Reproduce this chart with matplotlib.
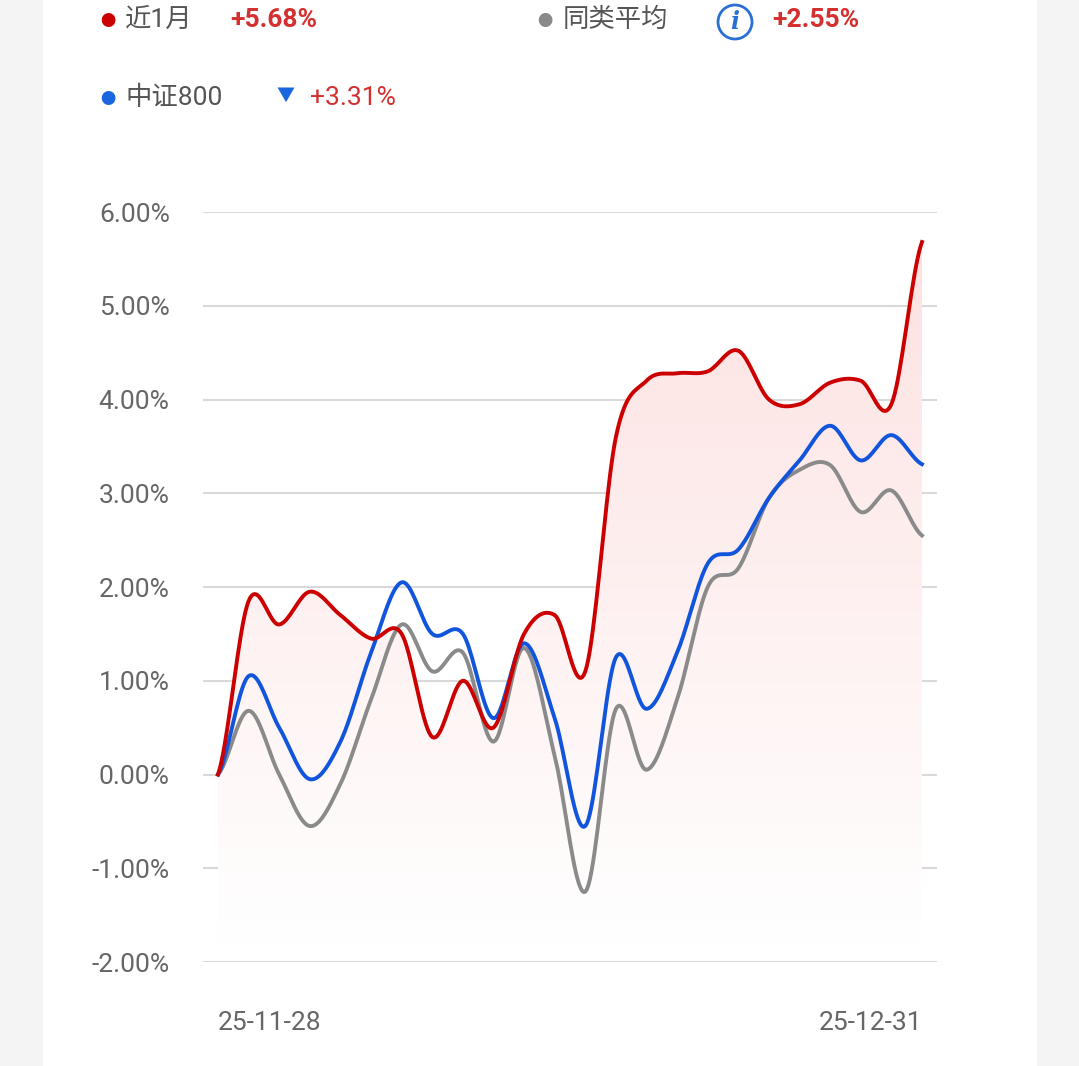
import matplotlib.pyplot as plt
import matplotlib.patches as mpatches
import numpy as np

plt.rcParams['font.family'] = ['Roboto', 'Noto Sans CJK SC', 'DejaVu Sans']

# values (percent)
fund = [0, 1.85, 1.6, 1.95, 1.7, 1.45, 1.5, 0.4, 1.0, 0.5, 1.5, 1.7, 1.1, 3.6,
        4.2, 4.28, 4.3, 4.52, 4.0, 3.95, 4.18, 4.2, 3.95, 5.68]
csi800 = [0, 1.05, 0.5, -0.05, 0.35, 1.3, 2.05, 1.5, 1.5, 0.6, 1.4, 0.6, -0.55, 1.25,
          0.7, 1.3, 2.25, 2.4, 2.95, 3.35, 3.72, 3.35, 3.62, 3.31]
peer = [0, 0.68, 0.0, -0.55, -0.1, 0.8, 1.6, 1.1, 1.3, 0.35, 1.35, 0.2, -1.25, 0.7,
        0.05, 0.8, 2.0, 2.2, 2.95, 3.25, 3.3, 2.8, 3.03, 2.55]
yticks = [6, 5, 4, 3, 2, 1, 0, -1, -2]
date_labels = ['25-11-28', '25-12-31']


def smooth(y, n=20):
    # catmull-rom curve through the points
    y = np.asarray(y, float)
    p = np.concatenate([[y[0]], y, [y[-1]]])
    xs, ys = [], []
    t = np.linspace(0, 1, n, endpoint=False)
    for i in range(len(y) - 1):
        p0, p1, p2, p3 = p[i], p[i + 1], p[i + 2], p[i + 3]
        seg = 0.5 * (2 * p1 + (-p0 + p2) * t + (2 * p0 - 5 * p1 + 4 * p2 - p3) * t ** 2
                     + (-p0 + 3 * p1 - 3 * p2 + p3) * t ** 3)
        xs.append(i + t)
        ys.append(seg)
    xs.append([len(y) - 1])
    ys.append([y[-1]])
    return np.concatenate(xs), np.concatenate(ys)


fig = plt.figure(figsize=(10.79, 10.66), dpi=100, facecolor='#f4f4f4')
bg = fig.add_axes([43 / 1079, 0, (1037 - 43) / 1079, 1])
bg.set_facecolor('white')
bg.set_xticks([])
bg.set_yticks([])
for sp in bg.spines.values():
    sp.set_visible(False)
bg.set_zorder(0)

ax = fig.add_axes([203 / 1079, 1 - 962 / 1066, 734 / 1079, 750 / 1066])
ax.set_zorder(2)
ax.set_facecolor('none')
ax.set_xlim(-0.49, 23.49)
ax.set_ylim(-2, 6)

# gradient fill under the fund line
fx, fy = smooth(fund)
grad = np.linspace(0, 1, 256).reshape(-1, 1)
img = ax.imshow(grad, extent=[0, 23, -1.8, 6], origin='lower', aspect='auto',
                cmap=plt.matplotlib.colors.LinearSegmentedColormap.from_list(
                    'g', ['#ffffff', '#fde0e0']), zorder=1)
poly = mpatches.Polygon(np.column_stack([np.r_[fx, 23, 0], np.r_[fy, -1.8, -1.8]]),
                        closed=True, transform=ax.transData, facecolor='none', edgecolor='none')
ax.add_patch(poly)
img.set_clip_path(poly)
ax.set_xlim(-0.49, 23.49)
ax.set_ylim(-2, 6)

for s, c in [(peer, '#8a8a8a'), (csi800, '#1155dd'), (fund, '#cc0000')]:
    x, y = smooth(s)
    ax.plot(x, y, color=c, lw=2.8, zorder=3)

for v in yticks:
    ax.axhline(v, color='#d9d9d9', lw=1.5, zorder=0)
ax.set_yticks(yticks)
ax.set_yticklabels([f'{v:.2f}%' for v in yticks], fontsize=19, color='#666666')
ax.tick_params(axis='y', length=0, pad=24)
ax.set_xticks([])
for sp in ax.spines.values():
    sp.set_visible(False)
ax.text(0, -2.65, date_labels[0], ha='left', va='center', fontsize=19, color='#666666')
ax.text(23, -2.65, date_labels[1], ha='right', va='center', fontsize=19, color='#666666')


# legend header
def fy_(p):
    return 1 - p / 1066


fig.text(100 / 1079, fy_(22), '●', fontsize=11, color='#cc0000', va='center')
fig.text(125 / 1079, fy_(20), '近1月', fontsize=19, color='#555555', va='center')
fig.text(230 / 1079, fy_(20), '+5.68%', fontsize=19, color='#d43030', va='center', weight='bold')
fig.text(537 / 1079, fy_(22), '●', fontsize=11, color='#8a8a8a', va='center')
fig.text(563 / 1079, fy_(20), '同类平均', fontsize=19, color='#555555', va='center')
fig.patches.append(mpatches.Ellipse((735 / 1079, fy_(22)), 34 / 1079, 34 / 1066,
                                    transform=fig.transFigure, fill=False,
                                    edgecolor='#2a6fd6', lw=2, zorder=5))
fig.text(735 / 1079, fy_(22), 'i', fontsize=17, color='#2a6fd6', va='center', ha='center',
         style='italic', weight='bold', family='DejaVu Serif')
fig.text(772 / 1079, fy_(20), '+2.55%', fontsize=19, color='#d43030', va='center', weight='bold')
fig.text(100 / 1079, fy_(100), '●', fontsize=11, color='#1a66e0', va='center')
fig.text(125 / 1079, fy_(98), '中证800', fontsize=19, color='#555555', va='center')
fig.text(276 / 1079, fy_(96), '▼', fontsize=13, color='#1a66e0', va='center')
fig.text(310 / 1079, fy_(98), '+3.31%', fontsize=19, color='#d43030', va='center')

fig.savefig('out.png', dpi=100, facecolor=fig.get_facecolor())
